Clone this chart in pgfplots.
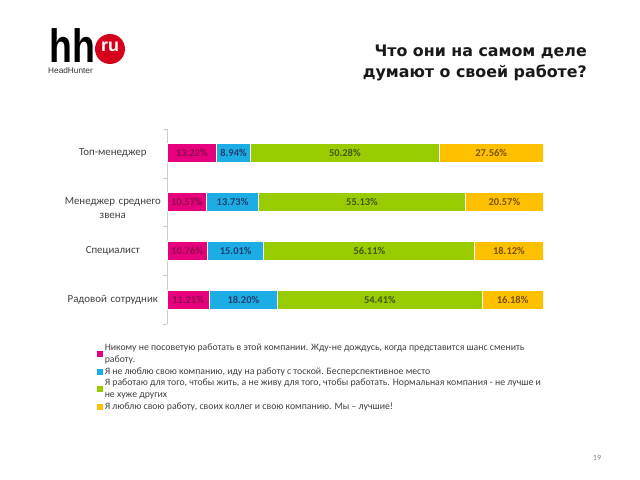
\documentclass[border=0pt]{standalone}
\usepackage{fontspec}
\setmainfont{Carlito}
\newfontfamily\titlefont{DejaVu Sans}
\newfontfamily\logofont{Liberation Sans}
\usepackage{pgfplots}
\usepackage{pgfplotstable}
\pgfplotsset{compat=1.18}

\definecolor{cpink}{HTML}{E6007E}
\definecolor{cblue}{HTML}{1BADE4}
\definecolor{cgreen}{HTML}{99CC00}
\definecolor{corange}{HTML}{FFC000}
\definecolor{tpink}{HTML}{8C0A4B}
\definecolor{tblue}{HTML}{1F3F6E}
\definecolor{tgreen}{HTML}{3F5A0F}
\definecolor{torange}{HTML}{7A5200}
\definecolor{hhred}{HTML}{D6001C}
\definecolor{txt}{HTML}{404040}

% one table per answer, rows = job level
\pgfplotstableread{
cat v
0 13.22
1 10.57
2 10.76
3 11.21
}\pinkdata
\pgfplotstableread{
cat v
0 8.94
1 13.73
2 15.01
3 18.20
}\bluedata
\pgfplotstableread{
cat v
0 50.28
1 55.13
2 56.11
3 54.41
}\greendata
\pgfplotstableread{
cat v
0 27.56
1 20.57
2 18.12
3 16.18
}\orangedata

\newcommand{\lgd}[1]{\parbox[c]{445bp}{\strut #1\strut}}

\begin{document}
\begin{tikzpicture}
\fill[white] (0,0) rectangle (640bp,-480bp);
\useasboundingbox (0,0) rectangle (640bp,-480bp);

% logo
\fill[hhred] (110bp,-49bp) circle (15bp);
\node[anchor=base west, inner sep=0pt, text depth=0pt] at (49bp,-62bp)
  {\scalebox{0.8}[1]{\logofont\bfseries\fontsize{47}{47}\selectfont hh}};
\node[anchor=center, inner sep=0pt, text=white] at (110bp,-47bp)
  {\logofont\bfseries\fontsize{18}{18}\selectfont ru};
\node[anchor=base west, inner sep=0pt, text=black!80] at (48bp,-73bp)
  {\logofont\fontsize{8.3}{9}\selectfont HeadHunter};

% title
\node[anchor=base east, inner sep=0pt, text=black!90] at (587bp,-56bp)
  {\titlefont\bfseries\fontsize{15.9}{18}\selectfont Что они на самом деле};
\node[anchor=base east, inner sep=0pt, text=black!90] at (587bp,-77bp)
  {\titlefont\bfseries\fontsize{15.9}{18}\selectfont думают о своей работе?};

\node[anchor=center, inner sep=0pt, text=gray] at (597bp,-458bp)
  {\fontsize{8}{9}\selectfont 19};

\begin{axis}[
  at={(167bp,-129bp)}, anchor=north west,
  scale only axis, width=376bp, height=195bp,
  xbar stacked, bar width=19bp,
  xmin=0, xmax=100, ymin=-0.5, ymax=3.5, y dir=reverse,
  axis x line=none, axis y line*=left,
  axis line style={draw=gray!40},
  xtick=\empty,
  ytick={0,2,3},
  yticklabels={Топ-менеджер,Специалист,Радовой сотрудник},
  major tick length=0pt,
  minor ytick={-0.5,0.5,1.5,2.5,3.5},
  minor tick length=4bp, tick align=outside,
  minor tick style={draw=gray!40},
  extra y ticks={1},
  extra y tick labels={{Менеджер среднего\\звена}},
  extra y tick style={major tick length=0pt,
    yticklabel style={yshift=-6bp}},
  yticklabel style={font=\fontsize{10.9}{13.5}\selectfont, text=txt, text width=100bp,
    align=center, anchor=east, inner sep=0pt, xshift=-4bp},
  point meta=x,
  visualization depends on={rawx \as \rawval},
  nodes near coords={\pgfmathprintnumber[fixed,fixed zerofill,precision=2,assume math mode=true]{\rawval}\%},
  nodes near coords style={anchor=center,
    font=\bfseries\fontsize{10.5}{11}\selectfont},
  legend style={at={(-0.186,-0.093)}, anchor=north west, draw=none, fill=none,
    inner sep=0pt, row sep=0pt, column sep=0pt,
    font=\fontsize{9.8}{11.8}\selectfont,
    nodes={text depth={}, inner ysep=0pt, inner xsep=1.5bp},
    cells={anchor=west, text=txt}},
  legend image code/.code={\fill[#1,draw=none] (0bp,-3bp) rectangle (6bp,3bp);},
]
\addplot[fill=cpink, draw=white, line width=1bp, nodes near coords style={text=tpink}]
  table[x=v, y=cat] {\pinkdata};
\addlegendentry{\lgd{Никому не посоветую работать в этой компании. Жду-не дождусь, когда представится шанс сменить\newline работу.}}
\addplot[fill=cblue, draw=white, line width=1bp, nodes near coords style={text=tblue}]
  table[x=v, y=cat] {\bluedata};
\addlegendentry{\lgd{Я не люблю свою компанию, иду на работу с тоской. Бесперспективное место}}
\addplot[fill=cgreen, draw=white, line width=1bp, nodes near coords style={text=tgreen}]
  table[x=v, y=cat] {\greendata};
\addlegendentry{\lgd{Я работаю для того, чтобы жить, а не живу для того, чтобы работать. Нормальная компания - не лучше и\newline не хуже других}}
\addplot[fill=corange, draw=white, line width=1bp, nodes near coords style={text=torange}]
  table[x=v, y=cat] {\orangedata};
\addlegendentry{\lgd{Я люблю свою работу, своих коллег и свою компанию. Мы – лучшие!}}
\end{axis}
\end{tikzpicture}
\end{document}
